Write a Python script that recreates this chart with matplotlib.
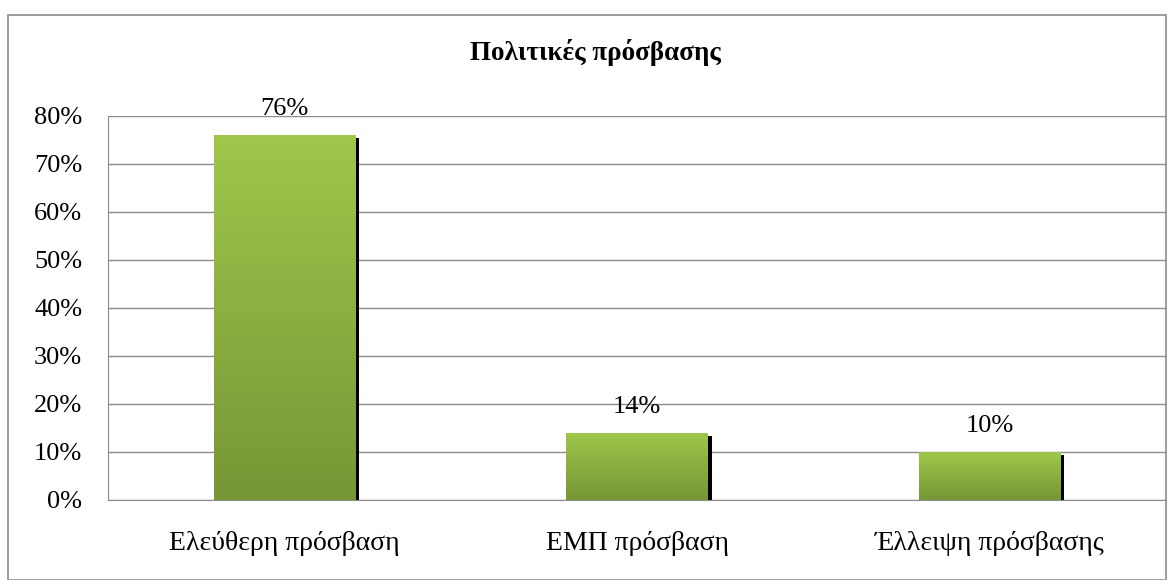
import numpy as np
import matplotlib.pyplot as plt
from matplotlib.patches import Rectangle
from matplotlib.colors import LinearSegmentedColormap

categories = ["Ελεύθερη πρόσβαση", "ΕΜΠ πρόσβαση", "Έλλειψη πρόσβασης"]
values = [0.76, 0.14, 0.10]
value_labels = ["76%", "14%", "10%"]
yticks = [0, 0.1, 0.2, 0.3, 0.4, 0.5, 0.6, 0.7, 0.8]
ytick_labels = ["0%", "10%", "20%", "30%", "40%", "50%", "60%", "70%", "80%"]
title = "Πολιτικές πρόσβασης"

plt.rcParams["font.family"] = ["Liberation Serif", "DejaVu Serif"]

fig = plt.figure(figsize=(11.7, 5.8), dpi=100)
ax_w, ax_h = 1058, 384
ax = fig.add_axes([108 / 1170, 1 - 500 / 580, ax_w / 1170, ax_h / 580])

# outer chart border
fig.patches.append(Rectangle((8 / 1170, 0), 1158 / 1170, 1 - 15 / 580,
                             transform=fig.transFigure, fill=False,
                             edgecolor="#8c8c8c", linewidth=1.2))

x = np.arange(len(categories))
width = 0.4
ymax = 0.8
# size of one pixel in data units (for the shadow offset)
dx = len(categories) / ax_w
dy = ymax / ax_h

# gradient green, darker at the bottom
cmap = LinearSegmentedColormap.from_list("grn", ["#779636", "#9fc74b"])
grad = np.linspace(0, 1, 256).reshape(-1, 1)

for xi, v, lab in zip(x, values, value_labels):
    # black shadow: 5px right, 3px lower
    ax.bar(xi + 4 * dx, v - 3 * dy, width, color="black", zorder=2)
    bar = ax.bar(xi, v, width, color="#8db442", zorder=3)[0]
    im = ax.imshow(grad, cmap=cmap, origin="lower", aspect="auto",
                   extent=[xi - width / 2, xi + width / 2, 0, v], zorder=4)
    im.set_clip_path(bar)
    ax.annotate(lab, (xi, v), xytext=(0, 11), textcoords="offset points",
                ha="center", va="bottom", fontsize=19)

ax.set_xlim(-0.5, len(categories) - 0.5)
ax.set_ylim(0, ymax)
ax.set_yticks(yticks)
ax.set_yticklabels(ytick_labels, fontsize=19)
ax.set_xticks(x)
ax.set_xticklabels(categories, fontsize=20)
ax.tick_params(axis="y", length=0, pad=18.5)
ax.tick_params(axis="x", length=0, pad=22)
ax.grid(axis="y", color="#8c8c8c", linewidth=1, zorder=0)
ax.set_axisbelow(True)
for s in ["top", "right"]:
    ax.spines[s].set_visible(False)
ax.spines["left"].set_color("#8c8c8c")
ax.spines["bottom"].set_color("#8c8c8c")

fig.text(595 / 1170, 1 - 52 / 580, title, ha="center", va="center",
         fontsize=19.5, fontweight="bold")

fig.savefig("out.png", dpi=100)
